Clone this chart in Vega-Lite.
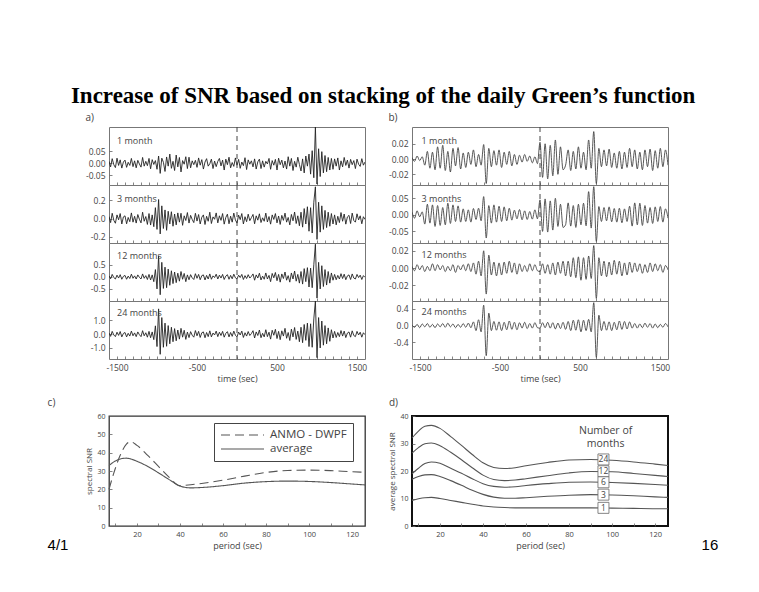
{
"$schema":"https://vega.github.io/schema/vega-lite/v6.json",
"background":"white",
"padding":{"left":46,"top":85,"right":40,"bottom":39},
"title":{"text":"Increase of SNR based on stacking of the daily Green’s function","font":"Liberation Serif","fontSize":23,"fontWeight":"bold","color":"#000","anchor":"middle","offset":4},
"columns":2,
"spacing":{"row":0,"column":47},
"bounds":"flush",
"config":{
 "view":{"stroke":"#777","strokeWidth":1},
 "axis":{"domain":false,"grid":false,"labelFont":"Open Sans","labelFontSize":8.5,"labelColor":"#444","tickColor":"#666","tickSize":-3,"tickWidth":0.8,"labelPadding":7,"titleFont":"Open Sans","titleFontWeight":"normal","titleFontSize":9,"titleColor":"#444","labelOverlap":false,"labelFlush":false,"titlePadding":3},
 "text":{"font":"Open Sans"}
},
"datasets":{
"a1":[{"t":-1600,"v":0.008},{"t":-1580,"v":-0.015},{"t":-1560,"v":0.019},{"t":-1540,"v":-0.006},{"t":-1520,"v":-0.018},{"t":-1500,"v":0.021},{"t":-1480,"v":-0.009},{"t":-1460,"v":0.014},{"t":-1440,"v":-0.02},{"t":-1420,"v":0.005},
{"t":-1400,"v":0.013},{"t":-1380,"v":-0.017},{"t":-1360,"v":0.004},{"t":-1340,"v":-0.009},{"t":-1320,"v":0.02},{"t":-1300,"v":-0.014},{"t":-1280,"v":0.01},{"t":-1260,"v":-0.019},{"t":-1240,"v":0.012},{"t":-1220,"v":-0.003},
{"t":-1200,"v":-0.016},{"t":-1180,"v":0.024},{"t":-1160,"v":-0.012},{"t":-1140,"v":0.008},{"t":-1120,"v":-0.01},{"t":-1100,"v":0.02},{"t":-1080,"v":-0.023},{"t":-1060,"v":0.015},{"t":-1040,"v":-0.005},{"t":-1020,"v":0.011},
{"t":-1000,"v":-0.025},{"t":-980,"v":0.03},{"t":-960,"v":-0.042},{"t":-940,"v":0.021},{"t":-920,"v":0.004},{"t":-900,"v":-0.034},{"t":-880,"v":0.026},{"t":-860,"v":-0.012},{"t":-840,"v":0.038},{"t":-820,"v":-0.021},
{"t":-800,"v":0.008},{"t":-780,"v":-0.03},{"t":-760,"v":0.034},{"t":-740,"v":-0.015},{"t":-720,"v":0.024},{"t":-700,"v":-0.036},{"t":-680,"v":0.011},{"t":-660,"v":-0.004},{"t":-640,"v":0.027},{"t":-620,"v":-0.022},
{"t":-600,"v":0.025},{"t":-580,"v":-0.019},{"t":-560,"v":0.01},{"t":-540,"v":-0.006},{"t":-520,"v":0.012},{"t":-500,"v":-0.017},{"t":-480,"v":0.022},{"t":-460,"v":-0.008},{"t":-440,"v":0.015},{"t":-420,"v":-0.024},
{"t":-400,"v":0.005},{"t":-380,"v":0.019},{"t":-360,"v":-0.012},{"t":-340,"v":-0.002},{"t":-320,"v":0.017},{"t":-300,"v":-0.022},{"t":-280,"v":0.009},{"t":-260,"v":-0.014},{"t":-240,"v":0.008},{"t":-220,"v":0.02},
{"t":-200,"v":-0.011},{"t":-180,"v":0.013},{"t":-160,"v":-0.028},{"t":-140,"v":0.017},{"t":-120,"v":-0.006},{"t":-100,"v":0.025},{"t":-80,"v":-0.019},{"t":-60,"v":0.003},{"t":-40,"v":-0.013},{"t":-20,"v":0.022},
{"t":0,"v":-0.008},{"t":20,"v":0.016},{"t":40,"v":-0.021},{"t":60,"v":0.005},{"t":80,"v":-0.01},{"t":100,"v":0.023},{"t":120,"v":-0.026},{"t":140,"v":0.014},{"t":160,"v":-0.004},{"t":180,"v":0.01},
{"t":200,"v":-0.015},{"t":220,"v":0.018},{"t":240,"v":-0.024},{"t":260,"v":0.006},{"t":280,"v":0.017},{"t":300,"v":-0.022},{"t":320,"v":0.01},{"t":340,"v":-0.016},{"t":360,"v":0.008},{"t":380,"v":-0.003},
{"t":400,"v":0.02},{"t":420,"v":-0.025},{"t":440,"v":0.011},{"t":460,"v":-0.008},{"t":480,"v":0.016},{"t":500,"v":-0.028},{"t":520,"v":0.021},{"t":540,"v":-0.006},{"t":560,"v":0.013},{"t":580,"v":-0.019},
{"t":600,"v":0.009},{"t":620,"v":-0.024},{"t":640,"v":0.027},{"t":660,"v":-0.012},{"t":680,"v":0.02},{"t":700,"v":-0.03},{"t":720,"v":0.008},{"t":740,"v":-0.016},{"t":760,"v":0.025},{"t":780,"v":-0.005},
{"t":800,"v":-0.032},{"t":820,"v":0.018},{"t":840,"v":-0.04},{"t":860,"v":0.03},{"t":880,"v":-0.012},{"t":900,"v":0.038},{"t":920,"v":-0.045},{"t":940,"v":0.052},{"t":960,"v":-0.06},{"t":980,"v":0.15},
{"t":1000,"v":-0.086},{"t":1020,"v":0.06},{"t":1040,"v":-0.055},{"t":1060,"v":0.048},{"t":1080,"v":-0.04},{"t":1100,"v":0.032},{"t":1120,"v":-0.035},{"t":1140,"v":0.024},{"t":1160,"v":-0.028},{"t":1180,"v":0.02},
{"t":1200,"v":-0.025},{"t":1220,"v":0.018},{"t":1240,"v":-0.012},{"t":1260,"v":0.022},{"t":1280,"v":-0.028},{"t":1300,"v":0.01},{"t":1320,"v":-0.015},{"t":1340,"v":0.024},{"t":1360,"v":-0.009},{"t":1380,"v":0.013},
{"t":1400,"v":-0.02},{"t":1420,"v":0.016},{"t":1440,"v":-0.006},{"t":1460,"v":0.011},{"t":1480,"v":-0.022},{"t":1500,"v":0.017},{"t":1520,"v":-0.004},{"t":1540,"v":-0.013},{"t":1560,"v":0.019},{"t":1580,"v":-0.008},
{"t":1600,"v":0.005}],
"a2":[{"t":-1600,"v":0.022},{"t":-1580,"v":-0.045},{"t":-1560,"v":0.058},{"t":-1540,"v":-0.02},{"t":-1520,"v":-0.052},{"t":-1500,"v":0.04},{"t":-1480,"v":-0.014},{"t":-1460,"v":0.055},{"t":-1440,"v":-0.06},{"t":-1420,"v":0.018},
{"t":-1400,"v":0.03},{"t":-1380,"v":-0.058},{"t":-1360,"v":0.012},{"t":-1340,"v":-0.035},{"t":-1320,"v":0.062},{"t":-1300,"v":-0.04},{"t":-1280,"v":0.025},{"t":-1260,"v":-0.05},{"t":-1240,"v":0.044},{"t":-1220,"v":-0.008},
{"t":-1200,"v":-0.048},{"t":-1180,"v":0.07},{"t":-1160,"v":-0.03},{"t":-1140,"v":0.022},{"t":-1120,"v":-0.065},{"t":-1100,"v":0.055},{"t":-1080,"v":-0.072},{"t":-1060,"v":0.04},{"t":-1040,"v":-0.09},{"t":-1020,"v":0.12},
{"t":-1000,"v":-0.12},{"t":-980,"v":0.21},{"t":-960,"v":-0.17},{"t":-940,"v":0.14},{"t":-920,"v":-0.11},{"t":-900,"v":0.095},{"t":-880,"v":-0.13},{"t":-860,"v":0.08},{"t":-840,"v":-0.06},{"t":-820,"v":0.075},
{"t":-800,"v":-0.085},{"t":-780,"v":0.05},{"t":-760,"v":-0.07},{"t":-740,"v":0.062},{"t":-720,"v":-0.04},{"t":-700,"v":0.058},{"t":-680,"v":-0.075},{"t":-660,"v":0.03},{"t":-640,"v":-0.022},{"t":-620,"v":0.066},
{"t":-600,"v":-0.05},{"t":-580,"v":0.035},{"t":-560,"v":-0.01},{"t":-540,"v":-0.045},{"t":-520,"v":0.058},{"t":-500,"v":-0.028},{"t":-480,"v":0.044},{"t":-460,"v":-0.06},{"t":-440,"v":0.015},{"t":-420,"v":0.04},
{"t":-400,"v":-0.066},{"t":-380,"v":0.025},{"t":-360,"v":-0.03},{"t":-340,"v":0.07},{"t":-320,"v":-0.055},{"t":-300,"v":0.018},{"t":-280,"v":-0.008},{"t":-260,"v":0.062},{"t":-240,"v":-0.048},{"t":-220,"v":0.03},
{"t":-200,"v":-0.02},{"t":-180,"v":0.055},{"t":-160,"v":-0.062},{"t":-140,"v":0.012},{"t":-120,"v":0.048},{"t":-100,"v":-0.058},{"t":-80,"v":0.026},{"t":-60,"v":-0.04},{"t":-40,"v":0.06},{"t":-20,"v":-0.015},
{"t":0,"v":-0.05},{"t":20,"v":0.038},{"t":40,"v":-0.012},{"t":60,"v":0.055},{"t":80,"v":-0.06},{"t":100,"v":0.02},{"t":120,"v":-0.035},{"t":140,"v":0.048},{"t":160,"v":-0.024},{"t":180,"v":0.01},
{"t":200,"v":0.045},{"t":220,"v":-0.058},{"t":240,"v":0.03},{"t":260,"v":-0.018},{"t":280,"v":0.052},{"t":300,"v":-0.044},{"t":320,"v":0.008},{"t":340,"v":-0.03},{"t":360,"v":0.06},{"t":380,"v":-0.038},
{"t":400,"v":0.022},{"t":420,"v":-0.062},{"t":440,"v":0.04},{"t":460,"v":-0.01},{"t":480,"v":0.055},{"t":500,"v":-0.048},{"t":520,"v":0.028},{"t":540,"v":-0.065},{"t":560,"v":0.035},{"t":580,"v":-0.02},
{"t":600,"v":0.06},{"t":620,"v":-0.04},{"t":640,"v":0.012},{"t":660,"v":-0.07},{"t":680,"v":0.045},{"t":700,"v":-0.025},{"t":720,"v":0.072},{"t":740,"v":-0.055},{"t":760,"v":0.03},{"t":780,"v":-0.08},
{"t":800,"v":0.07},{"t":820,"v":-0.095},{"t":840,"v":0.11},{"t":860,"v":-0.06},{"t":880,"v":0.13},{"t":900,"v":-0.14},{"t":920,"v":0.12},{"t":940,"v":-0.16},{"t":960,"v":0.18},{"t":980,"v":0.35},
{"t":1000,"v":-0.23},{"t":1020,"v":0.18},{"t":1040,"v":-0.15},{"t":1060,"v":0.14},{"t":1080,"v":-0.12},{"t":1100,"v":0.09},{"t":1120,"v":-0.1},{"t":1140,"v":0.07},{"t":1160,"v":-0.085},{"t":1180,"v":0.055},
{"t":1200,"v":-0.06},{"t":1220,"v":0.04},{"t":1240,"v":-0.07},{"t":1260,"v":0.025},{"t":1280,"v":-0.045},{"t":1300,"v":0.066},{"t":1320,"v":-0.03},{"t":1340,"v":0.05},{"t":1360,"v":-0.062},{"t":1380,"v":0.018},
{"t":1400,"v":0.035},{"t":1420,"v":-0.055},{"t":1440,"v":0.06},{"t":1460,"v":-0.022},{"t":1480,"v":-0.04},{"t":1500,"v":0.052},{"t":1520,"v":-0.015},{"t":1540,"v":0.03},{"t":1560,"v":-0.058},{"t":1580,"v":0.02},
{"t":1600,"v":-0.01}],
"a3":[{"t":-1600,"v":0.04},{"t":-1580,"v":-0.08},{"t":-1560,"v":0.1},{"t":-1540,"v":-0.03},{"t":-1520,"v":-0.09},{"t":-1500,"v":0.07},{"t":-1480,"v":-0.05},{"t":-1460,"v":0.09},{"t":-1440,"v":-0.1},{"t":-1420,"v":0.02},
{"t":-1400,"v":0.06},{"t":-1380,"v":-0.1},{"t":-1360,"v":0.03},{"t":-1340,"v":-0.07},{"t":-1320,"v":0.11},{"t":-1300,"v":-0.06},{"t":-1280,"v":0.04},{"t":-1260,"v":-0.09},{"t":-1240,"v":0.08},{"t":-1220,"v":-0.02},
{"t":-1200,"v":-0.09},{"t":-1180,"v":0.12},{"t":-1160,"v":-0.06},{"t":-1140,"v":0.05},{"t":-1120,"v":-0.11},{"t":-1100,"v":0.1},{"t":-1080,"v":-0.13},{"t":-1060,"v":0.08},{"t":-1040,"v":-0.2},{"t":-1020,"v":0.3},
{"t":-1000,"v":-0.5},{"t":-980,"v":0.86},{"t":-960,"v":-0.74},{"t":-940,"v":0.6},{"t":-920,"v":-0.48},{"t":-900,"v":0.4},{"t":-880,"v":-0.45},{"t":-860,"v":0.32},{"t":-840,"v":-0.35},{"t":-820,"v":0.25},
{"t":-800,"v":-0.28},{"t":-780,"v":0.2},{"t":-760,"v":-0.24},{"t":-740,"v":0.15},{"t":-720,"v":-0.18},{"t":-700,"v":0.22},{"t":-680,"v":-0.1},{"t":-660,"v":0.14},{"t":-640,"v":-0.2},{"t":-620,"v":0.08},
{"t":-600,"v":-0.12},{"t":-580,"v":0.09},{"t":-560,"v":-0.04},{"t":-540,"v":-0.11},{"t":-520,"v":0.13},{"t":-500,"v":-0.06},{"t":-480,"v":0.1},{"t":-460,"v":-0.12},{"t":-440,"v":0.05},{"t":-420,"v":0.08},
{"t":-400,"v":-0.13},{"t":-380,"v":0.06},{"t":-360,"v":-0.09},{"t":-340,"v":0.12},{"t":-320,"v":-0.1},{"t":-300,"v":0.04},{"t":-280,"v":-0.03},{"t":-260,"v":0.11},{"t":-240,"v":-0.09},{"t":-220,"v":0.07},
{"t":-200,"v":-0.05},{"t":-180,"v":0.1},{"t":-160,"v":-0.11},{"t":-140,"v":0.03},{"t":-120,"v":0.09},{"t":-100,"v":-0.1},{"t":-80,"v":0.06},{"t":-60,"v":-0.08},{"t":-40,"v":0.11},{"t":-20,"v":-0.04},
{"t":0,"v":-0.09},{"t":20,"v":0.07},{"t":40,"v":-0.03},{"t":60,"v":0.1},{"t":80,"v":-0.11},{"t":100,"v":0.05},{"t":120,"v":-0.07},{"t":140,"v":0.09},{"t":160,"v":-0.05},{"t":180,"v":0.02},
{"t":200,"v":0.12},{"t":220,"v":-0.14},{"t":240,"v":0.08},{"t":260,"v":-0.05},{"t":280,"v":0.15},{"t":300,"v":-0.13},{"t":320,"v":0.03},{"t":340,"v":-0.1},{"t":360,"v":0.16},{"t":380,"v":-0.09},
{"t":400,"v":0.06},{"t":420,"v":-0.2},{"t":440,"v":0.14},{"t":460,"v":-0.04},{"t":480,"v":0.18},{"t":500,"v":-0.16},{"t":520,"v":0.1},{"t":540,"v":-0.22},{"t":560,"v":0.12},{"t":580,"v":-0.07},
{"t":600,"v":0.2},{"t":620,"v":-0.14},{"t":640,"v":0.05},{"t":660,"v":-0.22},{"t":680,"v":0.16},{"t":700,"v":-0.09},{"t":720,"v":0.24},{"t":740,"v":-0.18},{"t":760,"v":0.1},{"t":780,"v":-0.26},
{"t":800,"v":0.22},{"t":820,"v":-0.3},{"t":840,"v":0.34},{"t":860,"v":-0.2},{"t":880,"v":0.38},{"t":900,"v":-0.42},{"t":920,"v":0.36},{"t":940,"v":-0.45},{"t":960,"v":0.5},{"t":980,"v":1.35},
{"t":1000,"v":-0.88},{"t":1020,"v":0.6},{"t":1040,"v":-0.5},{"t":1060,"v":0.46},{"t":1080,"v":-0.4},{"t":1100,"v":0.3},{"t":1120,"v":-0.34},{"t":1140,"v":0.22},{"t":1160,"v":-0.26},{"t":1180,"v":0.16},
{"t":1200,"v":-0.14},{"t":1220,"v":0.1},{"t":1240,"v":-0.12},{"t":1260,"v":0.06},{"t":1280,"v":-0.09},{"t":1300,"v":0.13},{"t":1320,"v":-0.07},{"t":1340,"v":0.11},{"t":1360,"v":-0.12},{"t":1380,"v":0.04},
{"t":1400,"v":0.08},{"t":1420,"v":-0.11},{"t":1440,"v":0.12},{"t":1460,"v":-0.05},{"t":1480,"v":-0.09},{"t":1500,"v":0.1},{"t":1520,"v":-0.03},{"t":1540,"v":0.07},{"t":1560,"v":-0.11},{"t":1580,"v":0.05},
{"t":1600,"v":-0.02}],
"a4":[{"t":-1600,"v":0.08},{"t":-1580,"v":-0.16},{"t":-1560,"v":0.2},{"t":-1540,"v":-0.06},{"t":-1520,"v":-0.18},{"t":-1500,"v":0.14},{"t":-1480,"v":-0.09},{"t":-1460,"v":0.19},{"t":-1440,"v":-0.2},{"t":-1420,"v":0.05},
{"t":-1400,"v":0.12},{"t":-1380,"v":-0.2},{"t":-1360,"v":0.06},{"t":-1340,"v":-0.14},{"t":-1320,"v":0.22},{"t":-1300,"v":-0.12},{"t":-1280,"v":0.09},{"t":-1260,"v":-0.18},{"t":-1240,"v":0.16},{"t":-1220,"v":-0.04},
{"t":-1200,"v":-0.18},{"t":-1180,"v":0.25},{"t":-1160,"v":-0.12},{"t":-1140,"v":0.1},{"t":-1120,"v":-0.22},{"t":-1100,"v":0.2},{"t":-1080,"v":-0.26},{"t":-1060,"v":0.16},{"t":-1040,"v":-0.4},{"t":-1020,"v":0.6},
{"t":-1000,"v":-0.9},{"t":-980,"v":1.83},{"t":-960,"v":-1.46},{"t":-940,"v":1.2},{"t":-920,"v":-0.95},{"t":-900,"v":0.8},{"t":-880,"v":-0.88},{"t":-860,"v":0.62},{"t":-840,"v":-0.7},{"t":-820,"v":0.5},
{"t":-800,"v":-0.55},{"t":-780,"v":0.4},{"t":-760,"v":-0.48},{"t":-740,"v":0.3},{"t":-720,"v":-0.36},{"t":-700,"v":0.42},{"t":-680,"v":-0.22},{"t":-660,"v":0.28},{"t":-640,"v":-0.38},{"t":-620,"v":0.15},
{"t":-600,"v":-0.25},{"t":-580,"v":0.18},{"t":-560,"v":-0.08},{"t":-540,"v":-0.22},{"t":-520,"v":0.26},{"t":-500,"v":-0.12},{"t":-480,"v":0.2},{"t":-460,"v":-0.24},{"t":-440,"v":0.1},{"t":-420,"v":0.16},
{"t":-400,"v":-0.26},{"t":-380,"v":0.12},{"t":-360,"v":-0.18},{"t":-340,"v":0.24},{"t":-320,"v":-0.2},{"t":-300,"v":0.08},{"t":-280,"v":-0.06},{"t":-260,"v":0.22},{"t":-240,"v":-0.18},{"t":-220,"v":0.14},
{"t":-200,"v":-0.1},{"t":-180,"v":0.2},{"t":-160,"v":-0.22},{"t":-140,"v":0.06},{"t":-120,"v":0.18},{"t":-100,"v":-0.2},{"t":-80,"v":0.12},{"t":-60,"v":-0.16},{"t":-40,"v":0.22},{"t":-20,"v":-0.08},
{"t":0,"v":-0.2},{"t":20,"v":0.15},{"t":40,"v":-0.06},{"t":60,"v":0.22},{"t":80,"v":-0.24},{"t":100,"v":0.1},{"t":120,"v":-0.14},{"t":140,"v":0.19},{"t":160,"v":-0.1},{"t":180,"v":0.04},
{"t":200,"v":0.25},{"t":220,"v":-0.28},{"t":240,"v":0.16},{"t":260,"v":-0.1},{"t":280,"v":0.3},{"t":300,"v":-0.26},{"t":320,"v":0.06},{"t":340,"v":-0.2},{"t":360,"v":0.32},{"t":380,"v":-0.18},
{"t":400,"v":0.14},{"t":420,"v":-0.36},{"t":440,"v":0.28},{"t":460,"v":-0.08},{"t":480,"v":0.35},{"t":500,"v":-0.32},{"t":520,"v":0.2},{"t":540,"v":-0.4},{"t":560,"v":0.24},{"t":580,"v":-0.14},
{"t":600,"v":0.42},{"t":620,"v":-0.3},{"t":640,"v":0.12},{"t":660,"v":-0.46},{"t":680,"v":0.36},{"t":700,"v":-0.2},{"t":720,"v":0.48},{"t":740,"v":-0.38},{"t":760,"v":0.22},{"t":780,"v":-0.55},
{"t":800,"v":0.5},{"t":820,"v":-0.62},{"t":840,"v":0.7},{"t":860,"v":-0.45},{"t":880,"v":0.8},{"t":900,"v":-0.9},{"t":920,"v":0.75},{"t":940,"v":-0.95},{"t":960,"v":1.1},{"t":980,"v":2.4},
{"t":1000,"v":-1.7},{"t":1020,"v":1.2},{"t":1040,"v":-1.0},{"t":1060,"v":0.95},{"t":1080,"v":-0.8},{"t":1100,"v":0.62},{"t":1120,"v":-0.7},{"t":1140,"v":0.45},{"t":1160,"v":-0.52},{"t":1180,"v":0.32},
{"t":1200,"v":-0.28},{"t":1220,"v":0.2},{"t":1240,"v":-0.24},{"t":1260,"v":0.12},{"t":1280,"v":-0.18},{"t":1300,"v":0.26},{"t":1320,"v":-0.14},{"t":1340,"v":0.22},{"t":1360,"v":-0.25},{"t":1380,"v":0.08},
{"t":1400,"v":0.16},{"t":1420,"v":-0.22},{"t":1440,"v":0.24},{"t":1460,"v":-0.1},{"t":1480,"v":-0.18},{"t":1500,"v":0.2},{"t":1520,"v":-0.06},{"t":1540,"v":0.14},{"t":1560,"v":-0.22},{"t":1580,"v":0.1},
{"t":1600,"v":-0.04}],
"b1":[{"t":-1600,"v":0.002},{"t":-1568,"v":-0.003},{"t":-1536,"v":0.004},{"t":-1504,"v":-0.002},{"t":-1472,"v":0.003},{"t":-1440,"v":-0.008},{"t":-1408,"v":0.01},{"t":-1376,"v":-0.012},{"t":-1344,"v":0.009},{"t":-1312,"v":-0.014},
{"t":-1280,"v":0.016},{"t":-1248,"v":-0.012},{"t":-1216,"v":0.018},{"t":-1184,"v":-0.015},{"t":-1152,"v":0.01},{"t":-1120,"v":-0.017},{"t":-1088,"v":0.014},{"t":-1056,"v":-0.009},{"t":-1024,"v":0.015},{"t":-992,"v":-0.013},
{"t":-960,"v":0.008},{"t":-928,"v":-0.011},{"t":-896,"v":0.009},{"t":-864,"v":-0.007},{"t":-832,"v":0.012},{"t":-800,"v":-0.01},{"t":-768,"v":0.006},{"t":-736,"v":-0.008},{"t":-704,"v":0.019},{"t":-672,"v":-0.032},
{"t":-640,"v":0.014},{"t":-608,"v":-0.01},{"t":-576,"v":0.011},{"t":-544,"v":-0.008},{"t":-512,"v":0.012},{"t":-480,"v":-0.011},{"t":-448,"v":0.009},{"t":-416,"v":-0.007},{"t":-384,"v":0.01},{"t":-352,"v":-0.009},
{"t":-320,"v":0.006},{"t":-288,"v":-0.007},{"t":-256,"v":0.005},{"t":-224,"v":-0.004},{"t":-192,"v":0.006},{"t":-160,"v":-0.003},{"t":-128,"v":0.004},{"t":-96,"v":-0.005},{"t":-64,"v":0.003},{"t":-32,"v":-0.006},
{"t":0,"v":0.022},{"t":32,"v":-0.024},{"t":64,"v":0.02},{"t":96,"v":-0.026},{"t":128,"v":0.018},{"t":160,"v":-0.022},{"t":192,"v":0.025},{"t":224,"v":-0.02},{"t":256,"v":0.016},{"t":288,"v":-0.014},
{"t":320,"v":-0.008},{"t":352,"v":0.012},{"t":384,"v":-0.015},{"t":416,"v":0.01},{"t":448,"v":-0.013},{"t":480,"v":0.016},{"t":512,"v":-0.012},{"t":544,"v":0.009},{"t":576,"v":-0.014},{"t":608,"v":0.025},
{"t":640,"v":-0.012},{"t":672,"v":0.036},{"t":704,"v":-0.032},{"t":736,"v":0.014},{"t":768,"v":-0.01},{"t":800,"v":0.012},{"t":832,"v":-0.009},{"t":864,"v":0.013},{"t":896,"v":-0.011},{"t":928,"v":0.008},
{"t":960,"v":-0.012},{"t":992,"v":0.01},{"t":1024,"v":-0.013},{"t":1056,"v":0.009},{"t":1088,"v":-0.011},{"t":1120,"v":0.014},{"t":1152,"v":-0.01},{"t":1184,"v":0.012},{"t":1216,"v":-0.013},{"t":1248,"v":0.009},
{"t":1280,"v":-0.014},{"t":1312,"v":0.012},{"t":1344,"v":-0.01},{"t":1376,"v":0.013},{"t":1408,"v":-0.015},{"t":1440,"v":0.011},{"t":1472,"v":-0.012},{"t":1504,"v":0.014},{"t":1536,"v":-0.01},{"t":1568,"v":0.012},
{"t":1600,"v":-0.008}],
"b2":[{"t":-1600,"v":0.008},{"t":-1568,"v":-0.01},{"t":-1536,"v":0.012},{"t":-1504,"v":-0.006},{"t":-1472,"v":0.009},{"t":-1440,"v":-0.028},{"t":-1408,"v":0.032},{"t":-1376,"v":-0.025},{"t":-1344,"v":0.03},{"t":-1312,"v":-0.035},
{"t":-1280,"v":0.028},{"t":-1248,"v":-0.032},{"t":-1216,"v":0.022},{"t":-1184,"v":-0.03},{"t":-1152,"v":0.035},{"t":-1120,"v":-0.026},{"t":-1088,"v":0.03},{"t":-1056,"v":-0.02},{"t":-1024,"v":0.027},{"t":-992,"v":-0.022},
{"t":-960,"v":0.018},{"t":-928,"v":-0.02},{"t":-896,"v":0.015},{"t":-864,"v":-0.022},{"t":-832,"v":0.019},{"t":-800,"v":-0.014},{"t":-768,"v":0.02},{"t":-736,"v":-0.018},{"t":-704,"v":0.055},{"t":-672,"v":-0.07},
{"t":-640,"v":0.028},{"t":-608,"v":-0.025},{"t":-576,"v":0.03},{"t":-544,"v":-0.022},{"t":-512,"v":0.026},{"t":-480,"v":-0.02},{"t":-448,"v":0.024},{"t":-416,"v":-0.018},{"t":-384,"v":0.02},{"t":-352,"v":-0.016},
{"t":-320,"v":0.014},{"t":-288,"v":-0.012},{"t":-256,"v":0.016},{"t":-224,"v":-0.015},{"t":-192,"v":0.012},{"t":-160,"v":-0.014},{"t":-128,"v":0.01},{"t":-96,"v":-0.013},{"t":-64,"v":0.015},{"t":-32,"v":-0.012},
{"t":0,"v":0.045},{"t":32,"v":-0.05},{"t":64,"v":0.048},{"t":96,"v":-0.052},{"t":128,"v":0.042},{"t":160,"v":-0.046},{"t":192,"v":0.05},{"t":224,"v":-0.035},{"t":256,"v":0.032},{"t":288,"v":-0.038},
{"t":320,"v":-0.03},{"t":352,"v":0.036},{"t":384,"v":-0.034},{"t":416,"v":0.028},{"t":448,"v":-0.038},{"t":480,"v":0.032},{"t":512,"v":-0.03},{"t":544,"v":0.035},{"t":576,"v":-0.033},{"t":608,"v":0.07},
{"t":640,"v":-0.04},{"t":672,"v":0.085},{"t":704,"v":-0.08},{"t":736,"v":0.025},{"t":768,"v":-0.02},{"t":800,"v":0.022},{"t":832,"v":-0.018},{"t":864,"v":0.024},{"t":896,"v":-0.021},{"t":928,"v":0.019},
{"t":960,"v":-0.022},{"t":992,"v":0.02},{"t":1024,"v":-0.024},{"t":1056,"v":0.018},{"t":1088,"v":-0.02},{"t":1120,"v":0.026},{"t":1152,"v":-0.034},{"t":1184,"v":0.036},{"t":1216,"v":-0.03},{"t":1248,"v":0.035},
{"t":1280,"v":-0.032},{"t":1312,"v":0.028},{"t":1344,"v":-0.025},{"t":1376,"v":0.022},{"t":1408,"v":-0.026},{"t":1440,"v":0.024},{"t":1472,"v":-0.02},{"t":1504,"v":0.025},{"t":1536,"v":-0.022},{"t":1568,"v":0.018},
{"t":1600,"v":-0.01}],
"b3":[{"t":-1600,"v":0.002},{"t":-1568,"v":-0.003},{"t":-1536,"v":0.004},{"t":-1504,"v":-0.002},{"t":-1472,"v":0.003},{"t":-1440,"v":-0.004},{"t":-1408,"v":0.002},{"t":-1376,"v":-0.003},{"t":-1344,"v":0.005},{"t":-1312,"v":-0.003},
{"t":-1280,"v":0.004},{"t":-1248,"v":-0.002},{"t":-1216,"v":0.003},{"t":-1184,"v":-0.004},{"t":-1152,"v":0.002},{"t":-1120,"v":-0.003},{"t":-1088,"v":0.004},{"t":-1056,"v":-0.005},{"t":-1024,"v":0.003},{"t":-992,"v":-0.002},
{"t":-960,"v":0.004},{"t":-928,"v":-0.003},{"t":-896,"v":0.005},{"t":-864,"v":-0.004},{"t":-832,"v":0.006},{"t":-800,"v":-0.007},{"t":-768,"v":0.008},{"t":-736,"v":-0.009},{"t":-704,"v":0.02},{"t":-672,"v":-0.03},
{"t":-640,"v":0.015},{"t":-608,"v":-0.008},{"t":-576,"v":0.007},{"t":-544,"v":-0.009},{"t":-512,"v":0.006},{"t":-480,"v":-0.008},{"t":-448,"v":0.007},{"t":-416,"v":-0.006},{"t":-384,"v":0.008},{"t":-352,"v":-0.005},
{"t":-320,"v":0.006},{"t":-288,"v":-0.007},{"t":-256,"v":0.005},{"t":-224,"v":-0.004},{"t":-192,"v":0.003},{"t":-160,"v":-0.004},{"t":-128,"v":0.005},{"t":-96,"v":-0.003},{"t":-64,"v":0.004},{"t":-32,"v":-0.003},
{"t":0,"v":-0.004},{"t":32,"v":0.005},{"t":64,"v":-0.006},{"t":96,"v":0.004},{"t":128,"v":-0.007},{"t":160,"v":0.006},{"t":192,"v":-0.008},{"t":224,"v":0.007},{"t":256,"v":-0.006},{"t":288,"v":0.008},
{"t":320,"v":-0.009},{"t":352,"v":0.008},{"t":384,"v":-0.01},{"t":416,"v":0.012},{"t":448,"v":-0.011},{"t":480,"v":0.013},{"t":512,"v":-0.014},{"t":544,"v":0.012},{"t":576,"v":-0.013},{"t":608,"v":0.014},
{"t":640,"v":-0.012},{"t":672,"v":0.026},{"t":704,"v":-0.035},{"t":736,"v":0.012},{"t":768,"v":-0.009},{"t":800,"v":0.008},{"t":832,"v":-0.01},{"t":864,"v":0.007},{"t":896,"v":-0.008},{"t":928,"v":0.009},
{"t":960,"v":-0.007},{"t":992,"v":0.008},{"t":1024,"v":-0.009},{"t":1056,"v":0.006},{"t":1088,"v":-0.008},{"t":1120,"v":0.007},{"t":1152,"v":-0.005},{"t":1184,"v":0.006},{"t":1216,"v":-0.004},{"t":1248,"v":0.005},
{"t":1280,"v":-0.006},{"t":1312,"v":0.004},{"t":1344,"v":-0.005},{"t":1376,"v":0.006},{"t":1408,"v":-0.004},{"t":1440,"v":0.005},{"t":1472,"v":-0.003},{"t":1504,"v":0.004},{"t":1536,"v":-0.005},{"t":1568,"v":0.003},
{"t":1600,"v":-0.002}],
"b4":[{"t":-1600,"v":0.02},{"t":-1568,"v":-0.04},{"t":-1536,"v":0.03},{"t":-1504,"v":-0.05},{"t":-1472,"v":0.04},{"t":-1440,"v":-0.03},{"t":-1408,"v":0.05},{"t":-1376,"v":-0.04},{"t":-1344,"v":0.03},{"t":-1312,"v":-0.05},
{"t":-1280,"v":0.04},{"t":-1248,"v":-0.03},{"t":-1216,"v":0.05},{"t":-1184,"v":-0.04},{"t":-1152,"v":0.06},{"t":-1120,"v":-0.03},{"t":-1088,"v":0.04},{"t":-1056,"v":-0.05},{"t":-1024,"v":0.03},{"t":-992,"v":-0.04},
{"t":-960,"v":0.05},{"t":-928,"v":-0.04},{"t":-896,"v":0.06},{"t":-864,"v":-0.05},{"t":-832,"v":0.09},{"t":-800,"v":-0.12},{"t":-768,"v":0.14},{"t":-736,"v":-0.15},{"t":-704,"v":0.49},{"t":-672,"v":-0.72},
{"t":-640,"v":0.3},{"t":-608,"v":-0.12},{"t":-576,"v":0.1},{"t":-544,"v":-0.11},{"t":-512,"v":0.09},{"t":-480,"v":-0.12},{"t":-448,"v":0.08},{"t":-416,"v":-0.1},{"t":-384,"v":0.11},{"t":-352,"v":-0.09},
{"t":-320,"v":0.08},{"t":-288,"v":-0.1},{"t":-256,"v":0.07},{"t":-224,"v":-0.06},{"t":-192,"v":0.08},{"t":-160,"v":-0.07},{"t":-128,"v":0.05},{"t":-96,"v":-0.06},{"t":-64,"v":0.07},{"t":-32,"v":-0.05},
{"t":0,"v":-0.06},{"t":32,"v":0.07},{"t":64,"v":-0.05},{"t":96,"v":0.08},{"t":128,"v":-0.06},{"t":160,"v":0.07},{"t":192,"v":-0.08},{"t":224,"v":0.06},{"t":256,"v":-0.07},{"t":288,"v":0.08},
{"t":320,"v":-0.09},{"t":352,"v":0.1},{"t":384,"v":-0.12},{"t":416,"v":0.13},{"t":448,"v":-0.11},{"t":480,"v":0.14},{"t":512,"v":-0.15},{"t":544,"v":0.13},{"t":576,"v":-0.12},{"t":608,"v":0.15},
{"t":640,"v":-0.15},{"t":672,"v":0.55},{"t":704,"v":-0.76},{"t":736,"v":0.25},{"t":768,"v":-0.12},{"t":800,"v":0.1},{"t":832,"v":-0.11},{"t":864,"v":0.09},{"t":896,"v":-0.12},{"t":928,"v":0.08},
{"t":960,"v":-0.1},{"t":992,"v":0.11},{"t":1024,"v":-0.09},{"t":1056,"v":0.1},{"t":1088,"v":-0.08},{"t":1120,"v":0.09},{"t":1152,"v":-0.06},{"t":1184,"v":0.05},{"t":1216,"v":-0.06},{"t":1248,"v":0.04},
{"t":1280,"v":-0.05},{"t":1312,"v":0.06},{"t":1344,"v":-0.04},{"t":1376,"v":0.05},{"t":1408,"v":-0.06},{"t":1440,"v":0.04},{"t":1472,"v":-0.05},{"t":1504,"v":0.03},{"t":1536,"v":-0.04},{"t":1568,"v":0.05},
{"t":1600,"v":-0.03}],
"c":[{"p":7,"snr":20,"s":"ANMO - DWPF"},{"p":9,"snr":28,"s":"ANMO - DWPF"},{"p":12,"snr":38,"s":"ANMO - DWPF"},{"p":15,"snr":44.5,"s":"ANMO - DWPF"},{"p":17,"snr":46,"s":"ANMO - DWPF"},{"p":20,"snr":44,"s":"ANMO - DWPF"},{"p":25,"snr":38.5,"s":"ANMO - DWPF"},{"p":30,"snr":32.5,"s":"ANMO - DWPF"},{"p":35,"snr":26.5,"s":"ANMO - DWPF"},{"p":40,"snr":22,"s":"ANMO - DWPF"},{"p":45,"snr":22.5,"s":"ANMO - DWPF"},{"p":50,"snr":23.2,"s":"ANMO - DWPF"},{"p":60,"snr":25,"s":"ANMO - DWPF"},{"p":70,"snr":27.2,"s":"ANMO - DWPF"},{"p":80,"snr":29.2,"s":"ANMO - DWPF"},{"p":90,"snr":30.3,"s":"ANMO - DWPF"},{"p":100,"snr":30.5,"s":"ANMO - DWPF"},{"p":110,"snr":30.2,"s":"ANMO - DWPF"},{"p":120,"snr":29.6,"s":"ANMO - DWPF"},{"p":126,"snr":29.3,"s":"ANMO - DWPF"},
{"p":7,"snr":33,"s":"average"},{"p":10,"snr":35.5,"s":"average"},{"p":13,"snr":36.8,"s":"average"},{"p":15,"snr":37,"s":"average"},{"p":17,"snr":36.6,"s":"average"},{"p":20,"snr":35.3,"s":"average"},{"p":25,"snr":32.5,"s":"average"},{"p":30,"snr":29,"s":"average"},{"p":35,"snr":25.3,"s":"average"},{"p":40,"snr":21.8,"s":"average"},{"p":45,"snr":20.8,"s":"average"},{"p":50,"snr":21,"s":"average"},{"p":60,"snr":22,"s":"average"},{"p":70,"snr":23.4,"s":"average"},{"p":80,"snr":24.2,"s":"average"},{"p":90,"snr":24.5,"s":"average"},{"p":100,"snr":24.3,"s":"average"},{"p":110,"snr":23.7,"s":"average"},{"p":120,"snr":22.9,"s":"average"},{"p":126,"snr":22.4,"s":"average"}],
"d":[{"p":7,"snr":32,"m":"24"},{"p":10,"snr":34.5,"m":"24"},{"p":13,"snr":36.3,"m":"24"},{"p":16,"snr":36.6,"m":"24"},{"p":20,"snr":35.5,"m":"24"},{"p":25,"snr":32.5,"m":"24"},{"p":30,"snr":29.3,"m":"24"},{"p":35,"snr":26,"m":"24"},{"p":40,"snr":23,"m":"24"},{"p":45,"snr":21.3,"m":"24"},{"p":50,"snr":20.9,"m":"24"},{"p":55,"snr":21.2,"m":"24"},{"p":60,"snr":21.9,"m":"24"},{"p":70,"snr":23.1,"m":"24"},{"p":80,"snr":24,"m":"24"},{"p":90,"snr":24.2,"m":"24"},{"p":100,"snr":23.9,"m":"24"},{"p":110,"snr":23.3,"m":"24"},{"p":120,"snr":22.5,"m":"24"},{"p":126,"snr":22,"m":"24"},
{"p":7,"snr":26.5,"m":"12"},{"p":10,"snr":28.5,"m":"12"},{"p":13,"snr":29.9,"m":"12"},{"p":16,"snr":30.2,"m":"12"},{"p":20,"snr":29.2,"m":"12"},{"p":25,"snr":26.8,"m":"12"},{"p":30,"snr":24.1,"m":"12"},{"p":35,"snr":21.2,"m":"12"},{"p":40,"snr":18.5,"m":"12"},{"p":45,"snr":16.9,"m":"12"},{"p":50,"snr":16.5,"m":"12"},{"p":55,"snr":16.7,"m":"12"},{"p":60,"snr":17.2,"m":"12"},{"p":70,"snr":18.3,"m":"12"},{"p":80,"snr":19.3,"m":"12"},{"p":90,"snr":19.8,"m":"12"},{"p":100,"snr":19.7,"m":"12"},{"p":110,"snr":19.1,"m":"12"},{"p":120,"snr":18.4,"m":"12"},{"p":126,"snr":18,"m":"12"},
{"p":7,"snr":19,"m":"6"},{"p":10,"snr":21,"m":"6"},{"p":13,"snr":22.7,"m":"6"},{"p":16,"snr":23.3,"m":"6"},{"p":20,"snr":22.8,"m":"6"},{"p":25,"snr":21,"m":"6"},{"p":30,"snr":19.2,"m":"6"},{"p":35,"snr":17.2,"m":"6"},{"p":40,"snr":15.4,"m":"6"},{"p":45,"snr":14.4,"m":"6"},{"p":50,"snr":14.1,"m":"6"},{"p":55,"snr":14.3,"m":"6"},{"p":60,"snr":14.7,"m":"6"},{"p":70,"snr":15.4,"m":"6"},{"p":80,"snr":15.9,"m":"6"},{"p":90,"snr":16,"m":"6"},{"p":100,"snr":15.8,"m":"6"},{"p":110,"snr":15.5,"m":"6"},{"p":120,"snr":15.1,"m":"6"},{"p":126,"snr":14.8,"m":"6"},
{"p":7,"snr":17,"m":"3"},{"p":10,"snr":18,"m":"3"},{"p":13,"snr":18.6,"m":"3"},{"p":16,"snr":18.7,"m":"3"},{"p":20,"snr":18,"m":"3"},{"p":25,"snr":16.5,"m":"3"},{"p":30,"snr":14.8,"m":"3"},{"p":35,"snr":13,"m":"3"},{"p":40,"snr":11.5,"m":"3"},{"p":45,"snr":10.5,"m":"3"},{"p":50,"snr":10.1,"m":"3"},{"p":55,"snr":10.1,"m":"3"},{"p":60,"snr":10.3,"m":"3"},{"p":70,"snr":10.8,"m":"3"},{"p":80,"snr":11.2,"m":"3"},{"p":90,"snr":11.4,"m":"3"},{"p":100,"snr":11.3,"m":"3"},{"p":110,"snr":11,"m":"3"},{"p":120,"snr":10.6,"m":"3"},{"p":126,"snr":10.4,"m":"3"},
{"p":7,"snr":9.3,"m":"1"},{"p":10,"snr":9.9,"m":"1"},{"p":13,"snr":10.3,"m":"1"},{"p":16,"snr":10.4,"m":"1"},{"p":20,"snr":10,"m":"1"},{"p":25,"snr":9.3,"m":"1"},{"p":30,"snr":8.6,"m":"1"},{"p":35,"snr":7.9,"m":"1"},{"p":40,"snr":7.3,"m":"1"},{"p":45,"snr":6.9,"m":"1"},{"p":50,"snr":6.7,"m":"1"},{"p":55,"snr":6.6,"m":"1"},{"p":60,"snr":6.6,"m":"1"},{"p":70,"snr":6.6,"m":"1"},{"p":80,"snr":6.6,"m":"1"},{"p":90,"snr":6.6,"m":"1"},{"p":100,"snr":6.5,"m":"1"},{"p":110,"snr":6.4,"m":"1"},{"p":120,"snr":6.3,"m":"1"},{"p":126,"snr":6.3,"m":"1"}],
"dlab":[{"x":96,"y":24.2,"label":"24"},{"x":96,"y":19.9,"label":"12"},{"x":96,"y":15.9,"label":"6"},{"x":96,"y":11.4,"label":"3"},{"x":96,"y":6.6,"label":"1"}],
"dhead":[{"x":97,"y":34.5,"label":"Number of"},{"x":97,"y":29.9,"label":"months"}]
},
"concat":[
{"width":256,"height":58,
 "title":{"text":"a)","anchor":"start","offset":4,"fontSize":10,"fontWeight":"normal","font":"Open Sans","color":"#444"},
 "layer":[
  {"data":{"name":"a1"},"mark":{"type":"line","color":"#222","strokeWidth":0.9,"clip":true},
   "encoding":{"x":{"field":"t","type":"quantitative","scale":{"domain":[-1600,1600]},"axis":{"values":[-1500,-1400,-1300,-1200,-1100,-1000,-900,-800,-700,-600,-500,-400,-300,-200,-100,0,100,200,300,400,500,600,700,800,900,1000,1100,1200,1300,1400,1500],"tickCount":100,"labels":false,"title":null,"labelOverlap":false}},
    "y":{"field":"v","type":"quantitative","scale":{"domain":[-0.09,0.15]},"axis":{"values":[-0.05,0,0.05],"tickCount":100,"labelExpr":"replace(format(datum.value,'.2f'),'−','-')","title":null,"labelOverlap":false}}}},
  {"data":{"values":[{}]},"mark":{"type":"rule","color":"#444","strokeDash":[5,4],"strokeWidth":1},"encoding":{"x":{"datum":0,"type":"quantitative","scale":{"domain":[-1600,1600]},"axis":{"labelOverlap":false,"tickCount":100}}}},
  {"data":{"values":[{"label":"1 month"}]},"mark":{"type":"text","align":"left","baseline":"middle","fontSize":9,"color":"#444"},"encoding":{"x":{"datum":-1500,"type":"quantitative","scale":{"domain":[-1600,1600]},"axis":{"labelOverlap":false,"tickCount":100}},"y":{"datum":0.092,"type":"quantitative","scale":{"domain":[-0.09,0.15]},"axis":{"labelOverlap":false,"tickCount":100}},"text":{"field":"label"}}}
 ]},
{"width":256,"height":58,
 "title":{"text":"b)","anchor":"start","offset":4,"fontSize":10,"fontWeight":"normal","font":"Open Sans","color":"#444"},
 "layer":[
  {"data":{"name":"b1"},"mark":{"type":"line","color":"#444","strokeWidth":0.9,"interpolate":"monotone","clip":true},
   "encoding":{"x":{"field":"t","type":"quantitative","scale":{"domain":[-1600,1600]},"axis":{"values":[-1500,-1400,-1300,-1200,-1100,-1000,-900,-800,-700,-600,-500,-400,-300,-200,-100,0,100,200,300,400,500,600,700,800,900,1000,1100,1200,1300,1400,1500],"tickCount":100,"labels":false,"title":null,"labelOverlap":false}},
    "y":{"field":"v","type":"quantitative","scale":{"domain":[-0.034,0.042]},"axis":{"values":[-0.02,0,0.02],"tickCount":100,"labelExpr":"replace(format(datum.value,'.2f'),'−','-')","title":null,"labelOverlap":false}}}},
  {"data":{"values":[{}]},"mark":{"type":"rule","color":"#444","strokeDash":[5,4],"strokeWidth":1},"encoding":{"x":{"datum":0,"type":"quantitative","scale":{"domain":[-1600,1600]},"axis":{"labelOverlap":false,"tickCount":100}}}},
  {"data":{"values":[{"label":"1 month"}]},"mark":{"type":"text","align":"left","baseline":"middle","fontSize":9,"color":"#444"},"encoding":{"x":{"datum":-1480,"type":"quantitative","scale":{"domain":[-1600,1600]},"axis":{"labelOverlap":false,"tickCount":100}},"y":{"datum":0.0237,"type":"quantitative","scale":{"domain":[-0.034,0.042]},"axis":{"labelOverlap":false,"tickCount":100}},"text":{"field":"label"}}}
 ]},
{"width":256,"height":58,
 "layer":[
  {"data":{"name":"a2"},"mark":{"type":"line","color":"#222","strokeWidth":0.9,"clip":true},
   "encoding":{"x":{"field":"t","type":"quantitative","scale":{"domain":[-1600,1600]},"axis":{"values":[-1500,-1400,-1300,-1200,-1100,-1000,-900,-800,-700,-600,-500,-400,-300,-200,-100,0,100,200,300,400,500,600,700,800,900,1000,1100,1200,1300,1400,1500],"tickCount":100,"labels":false,"title":null,"labelOverlap":false}},
    "y":{"field":"v","type":"quantitative","scale":{"domain":[-0.27,0.37]},"axis":{"values":[-0.2,0,0.2],"tickCount":100,"labelExpr":"replace(format(datum.value,'.1f'),'−','-')","title":null,"labelOverlap":false}}}},
  {"data":{"values":[{}]},"mark":{"type":"rule","color":"#444","strokeDash":[5,4],"strokeWidth":1},"encoding":{"x":{"datum":0,"type":"quantitative","scale":{"domain":[-1600,1600]},"axis":{"labelOverlap":false,"tickCount":100}}}},
  {"data":{"values":[{"label":"3 months"}]},"mark":{"type":"text","align":"left","baseline":"middle","fontSize":9,"color":"#444"},"encoding":{"x":{"datum":-1500,"type":"quantitative","scale":{"domain":[-1600,1600]},"axis":{"labelOverlap":false,"tickCount":100}},"y":{"datum":0.221,"type":"quantitative","scale":{"domain":[-0.27,0.37]},"axis":{"labelOverlap":false,"tickCount":100}},"text":{"field":"label"}}}
 ]},
{"width":256,"height":58,
 "layer":[
  {"data":{"name":"b2"},"mark":{"type":"line","color":"#444","strokeWidth":0.9,"interpolate":"monotone","clip":true},
   "encoding":{"x":{"field":"t","type":"quantitative","scale":{"domain":[-1600,1600]},"axis":{"values":[-1500,-1400,-1300,-1200,-1100,-1000,-900,-800,-700,-600,-500,-400,-300,-200,-100,0,100,200,300,400,500,600,700,800,900,1000,1100,1200,1300,1400,1500],"tickCount":100,"labels":false,"title":null,"labelOverlap":false}},
    "y":{"field":"v","type":"quantitative","scale":{"domain":[-0.085,0.09]},"axis":{"values":[-0.05,0,0.05],"tickCount":100,"labelExpr":"replace(format(datum.value,'.2f'),'−','-')","title":null,"labelOverlap":false}}}},
  {"data":{"values":[{}]},"mark":{"type":"rule","color":"#444","strokeDash":[5,4],"strokeWidth":1},"encoding":{"x":{"datum":0,"type":"quantitative","scale":{"domain":[-1600,1600]},"axis":{"labelOverlap":false,"tickCount":100}}}},
  {"data":{"values":[{"label":"3 months"}]},"mark":{"type":"text","align":"left","baseline":"middle","fontSize":9,"color":"#444"},"encoding":{"x":{"datum":-1480,"type":"quantitative","scale":{"domain":[-1600,1600]},"axis":{"labelOverlap":false,"tickCount":100}},"y":{"datum":0.049,"type":"quantitative","scale":{"domain":[-0.085,0.09]},"axis":{"labelOverlap":false,"tickCount":100}},"text":{"field":"label"}}}
 ]},
{"width":256,"height":58,
 "layer":[
  {"data":{"name":"a3"},"mark":{"type":"line","color":"#222","strokeWidth":0.9,"clip":true},
   "encoding":{"x":{"field":"t","type":"quantitative","scale":{"domain":[-1600,1600]},"axis":{"values":[-1500,-1400,-1300,-1200,-1100,-1000,-900,-800,-700,-600,-500,-400,-300,-200,-100,0,100,200,300,400,500,600,700,800,900,1000,1100,1200,1300,1400,1500],"tickCount":100,"labels":false,"title":null,"labelOverlap":false}},
    "y":{"field":"v","type":"quantitative","scale":{"domain":[-1.0,1.4]},"axis":{"values":[-0.5,0,0.5],"tickCount":100,"labelExpr":"replace(format(datum.value,'.1f'),'−','-')","title":null,"labelOverlap":false}}}},
  {"data":{"values":[{}]},"mark":{"type":"rule","color":"#444","strokeDash":[5,4],"strokeWidth":1},"encoding":{"x":{"datum":0,"type":"quantitative","scale":{"domain":[-1600,1600]},"axis":{"labelOverlap":false,"tickCount":100}}}},
  {"data":{"values":[{"label":"12 months"}]},"mark":{"type":"text","align":"left","baseline":"middle","fontSize":9,"color":"#444"},"encoding":{"x":{"datum":-1500,"type":"quantitative","scale":{"domain":[-1600,1600]},"axis":{"labelOverlap":false,"tickCount":100}},"y":{"datum":0.88,"type":"quantitative","scale":{"domain":[-1.0,1.4]},"axis":{"labelOverlap":false,"tickCount":100}},"text":{"field":"label"}}}
 ]},
{"width":256,"height":58,
 "layer":[
  {"data":{"name":"b3"},"mark":{"type":"line","color":"#444","strokeWidth":0.9,"interpolate":"monotone","clip":true},
   "encoding":{"x":{"field":"t","type":"quantitative","scale":{"domain":[-1600,1600]},"axis":{"values":[-1500,-1400,-1300,-1200,-1100,-1000,-900,-800,-700,-600,-500,-400,-300,-200,-100,0,100,200,300,400,500,600,700,800,900,1000,1100,1200,1300,1400,1500],"tickCount":100,"labels":false,"title":null,"labelOverlap":false}},
    "y":{"field":"v","type":"quantitative","scale":{"domain":[-0.038,0.029]},"axis":{"values":[-0.02,0,0.02],"tickCount":100,"labelExpr":"replace(format(datum.value,'.2f'),'−','-')","title":null,"labelOverlap":false}}}},
  {"data":{"values":[{}]},"mark":{"type":"rule","color":"#444","strokeDash":[5,4],"strokeWidth":1},"encoding":{"x":{"datum":0,"type":"quantitative","scale":{"domain":[-1600,1600]},"axis":{"labelOverlap":false,"tickCount":100}}}},
  {"data":{"values":[{"label":"12 months"}]},"mark":{"type":"text","align":"left","baseline":"middle","fontSize":9,"color":"#444"},"encoding":{"x":{"datum":-1480,"type":"quantitative","scale":{"domain":[-1600,1600]},"axis":{"labelOverlap":false,"tickCount":100}},"y":{"datum":0.0146,"type":"quantitative","scale":{"domain":[-0.038,0.029]},"axis":{"labelOverlap":false,"tickCount":100}},"text":{"field":"label"}}}
 ]},
{"width":256,"height":58,
 "layer":[
  {"data":{"name":"a4"},"mark":{"type":"line","color":"#222","strokeWidth":0.9,"clip":true},
   "encoding":{"x":{"field":"t","type":"quantitative","scale":{"domain":[-1600,1600]},"axis":{"values":[-1500,-1400,-1300,-1200,-1100,-1000,-900,-800,-700,-600,-500,-400,-300,-200,-100,0,100,200,300,400,500,600,700,800,900,1000,1100,1200,1300,1400,1500],"tickCount":100,"labelExpr":"abs(datum.value % 1000) == 500 ? toString(datum.value) : ''","title":"time (sec)","labelOverlap":false}},
    "y":{"field":"v","type":"quantitative","scale":{"domain":[-1.8,2.4]},"axis":{"values":[-1,0,1],"tickCount":100,"labelExpr":"replace(format(datum.value,'.1f'),'−','-')","title":null,"labelOverlap":false}}}},
  {"data":{"values":[{}]},"mark":{"type":"rule","color":"#444","strokeDash":[5,4],"strokeWidth":1},"encoding":{"x":{"datum":0,"type":"quantitative","scale":{"domain":[-1600,1600]},"axis":{"labelOverlap":false,"tickCount":100}}}},
  {"data":{"values":[{"label":"24 months"}]},"mark":{"type":"text","align":"left","baseline":"middle","fontSize":9,"color":"#444"},"encoding":{"x":{"datum":-1500,"type":"quantitative","scale":{"domain":[-1600,1600]},"axis":{"labelOverlap":false,"tickCount":100}},"y":{"datum":1.53,"type":"quantitative","scale":{"domain":[-1.8,2.4]},"axis":{"labelOverlap":false,"tickCount":100}},"text":{"field":"label"}}}
 ]},
{"width":256,"height":58,
 "layer":[
  {"data":{"name":"b4"},"mark":{"type":"line","color":"#444","strokeWidth":0.9,"interpolate":"monotone","clip":true},
   "encoding":{"x":{"field":"t","type":"quantitative","scale":{"domain":[-1600,1600]},"axis":{"values":[-1500,-1400,-1300,-1200,-1100,-1000,-900,-800,-700,-600,-500,-400,-300,-200,-100,0,100,200,300,400,500,600,700,800,900,1000,1100,1200,1300,1400,1500],"tickCount":100,"labelExpr":"abs(datum.value % 1000) == 500 ? toString(datum.value) : ''","title":"time (sec)","labelOverlap":false}},
    "y":{"field":"v","type":"quantitative","scale":{"domain":[-0.8,0.59]},"axis":{"values":[-0.4,0,0.4],"tickCount":100,"labelExpr":"replace(format(datum.value,'.1f'),'−','-')","title":null,"labelOverlap":false}}}},
  {"data":{"values":[{}]},"mark":{"type":"rule","color":"#444","strokeDash":[5,4],"strokeWidth":1},"encoding":{"x":{"datum":0,"type":"quantitative","scale":{"domain":[-1600,1600]},"axis":{"labelOverlap":false,"tickCount":100}}}},
  {"data":{"values":[{"label":"24 months"}]},"mark":{"type":"text","align":"left","baseline":"middle","fontSize":9,"color":"#444"},"encoding":{"x":{"datum":-1480,"type":"quantitative","scale":{"domain":[-1600,1600]},"axis":{"labelOverlap":false,"tickCount":100}},"y":{"datum":0.326,"type":"quantitative","scale":{"domain":[-0.8,0.59]},"axis":{"labelOverlap":false,"tickCount":100}},"text":{"field":"label"}}}
 ]},
{"width":256,"height":57,"view":{"stroke":null},"data":{"values":[]},"mark":"point","encoding":{}},
{"width":256,"height":57,"view":{"stroke":null},"data":{"values":[]},"mark":"point","encoding":{}},
{"width":256,"height":110,
 "title":{"text":"c)","anchor":"start","offset":4,"fontSize":10,"fontWeight":"normal","font":"Open Sans","color":"#444"},
 "view":{"stroke":"#333","strokeWidth":1.3},
 "layer":[
  {"data":{"name":"c"},"mark":{"type":"line","color":"#555","strokeWidth":1.1,"interpolate":"monotone"},
   "encoding":{
    "x":{"field":"p","type":"quantitative","scale":{"domain":[7,126]},"axis":{"values":[10,20,30,40,50,60,70,80,90,100,110,120],"tickCount":100,"labelExpr":"datum.value % 20 == 0 ? toString(datum.value) : ''","title":"period (sec)","labelFontSize":7.5,"titlePadding":4,"labelOverlap":false}},
    "y":{"field":"snr","type":"quantitative","scale":{"domain":[0,60]},"axis":{"values":[0,10,20,30,40,50,60],"tickCount":100,"labelExpr":"toString(datum.value)","title":"spectral SNR","labelFontSize":7,"titleFontSize":8,"titlePadding":3,"labelOverlap":false}},
    "strokeDash":{"field":"s","type":"nominal","scale":{"domain":["ANMO - DWPF","average"],"range":[[9,5],[1,0]]},
     "legend":{"title":null,"orient":"none","legendX":105,"legendY":296,"strokeColor":"#444","fillColor":"white","padding":6,"symbolType":"M-1,0H7.6","symbolSize":100,"symbolStrokeColor":"#555","symbolStrokeWidth":1.1,"labelOffset":38,"labelFont":"Open Sans","labelFontSize":11.5,"labelColor":"#444","rowPadding":2}}}},
  {"data":{"values":[{"txt":"4/1"}]},"mark":{"type":"text","font":"Liberation Sans","fontSize":15,"color":"#000"},"encoding":{"x":{"datum":-16.7,"type":"quantitative","scale":{"domain":[7,126]},"axis":{"labelOverlap":false,"tickCount":100}},"y":{"datum":-10.4,"type":"quantitative","scale":{"domain":[0,60]},"axis":{"labelOverlap":false,"tickCount":100,"labelExpr":"toString(datum.value)"}},"text":{"field":"txt"}}}
 ]},
{"width":256,"height":110,
 "title":{"text":"d)","anchor":"start","offset":4,"fontSize":10,"fontWeight":"normal","font":"Open Sans","color":"#444"},
 "view":{"stroke":"#111","strokeWidth":2},
 "layer":[
  {"data":{"name":"d"},"mark":{"type":"line","color":"#555","strokeWidth":1.1,"interpolate":"monotone"},
   "encoding":{
    "x":{"field":"p","type":"quantitative","scale":{"domain":[7,126]},"axis":{"values":[10,20,30,40,50,60,70,80,90,100,110,120],"tickCount":100,"labelExpr":"datum.value % 20 == 0 ? toString(datum.value) : ''","title":"period (sec)","labelFontSize":7.5,"titlePadding":4,"labelOverlap":false}},
    "y":{"field":"snr","type":"quantitative","scale":{"domain":[0,40]},"axis":{"values":[0,10,20,30,40],"tickCount":100,"labelExpr":"toString(datum.value)","title":"average spectral SNR","labelFontSize":7,"titleFontSize":8,"titlePadding":3,"labelOverlap":false}},
    "detail":{"field":"m","type":"nominal"}}},
  {"data":{"name":"dlab"},"mark":{"type":"rect","width":11,"height":11,"fill":"white","stroke":"#666","strokeWidth":0.8},
   "encoding":{"x":{"field":"x","type":"quantitative","scale":{"domain":[7,126]},"axis":{"labelOverlap":false,"tickCount":100}},"y":{"field":"y","type":"quantitative","scale":{"domain":[0,40]},"axis":{"labelOverlap":false,"tickCount":100,"labelExpr":"toString(datum.value)"}}}},
  {"data":{"name":"dlab"},"mark":{"type":"text","fontSize":8.5,"color":"#444","align":"center","baseline":"middle"},
   "encoding":{"x":{"field":"x","type":"quantitative","scale":{"domain":[7,126]},"axis":{"labelOverlap":false,"tickCount":100}},"y":{"field":"y","type":"quantitative","scale":{"domain":[0,40]},"axis":{"labelOverlap":false,"tickCount":100,"labelExpr":"toString(datum.value)"}},"text":{"field":"label"}}},
  {"data":{"name":"dhead"},"mark":{"type":"text","fontSize":10.5,"color":"#444","align":"center","baseline":"middle"},
   "encoding":{"x":{"field":"x","type":"quantitative","scale":{"domain":[7,126]},"axis":{"labelOverlap":false,"tickCount":100}},"y":{"field":"y","type":"quantitative","scale":{"domain":[0,40]},"axis":{"labelOverlap":false,"tickCount":100,"labelExpr":"toString(datum.value)"}},"text":{"field":"label"}}},
  {"data":{"values":[{"txt":"16"}]},"mark":{"type":"text","font":"Liberation Sans","fontSize":15,"color":"#000"},"encoding":{"x":{"datum":145.5,"type":"quantitative","scale":{"domain":[7,126]},"axis":{"labelOverlap":false,"tickCount":100}},"y":{"datum":-6.9,"type":"quantitative","scale":{"domain":[0,40]},"axis":{"labelOverlap":false,"tickCount":100,"labelExpr":"toString(datum.value)"}},"text":{"field":"txt"}}}
 ]}
]
}
